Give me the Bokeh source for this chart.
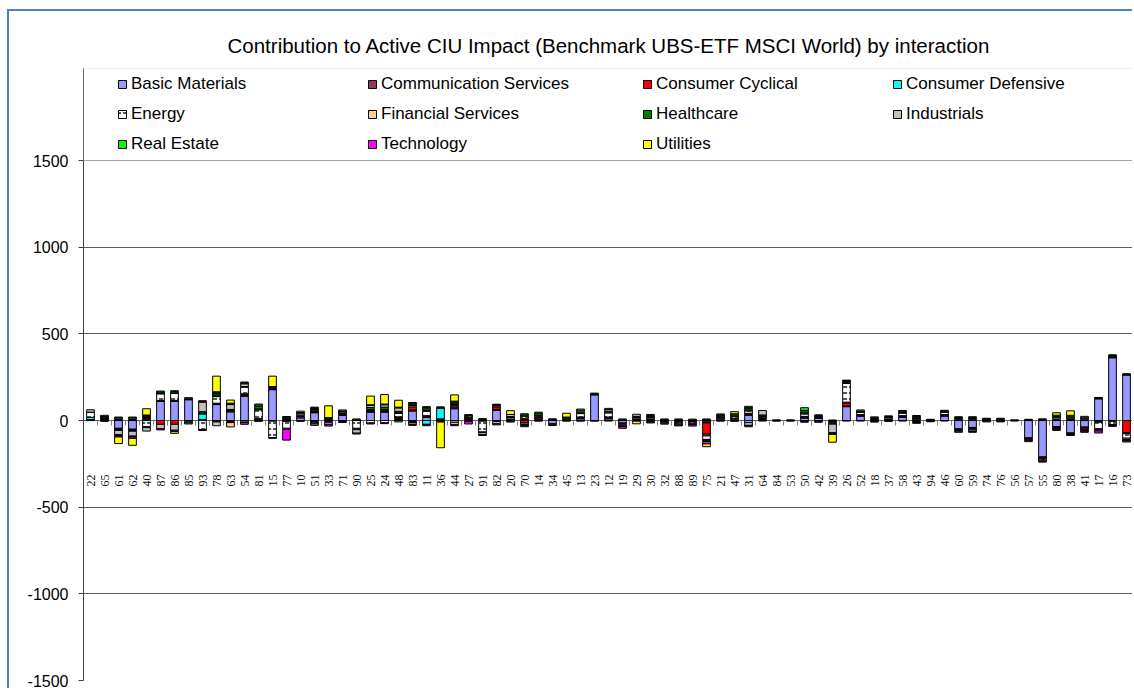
import numpy as np
from math import pi
from bokeh.plotting import figure
from bokeh.models import (ColumnDataSource, FactorRange, FixedTicker, Legend,
                          LegendItem, BoxAnnotation)
from bokeh.transform import dodge
from bokeh.embed import file_html
from bokeh.resources import INLINE

categories = ["22", "65", "61", "62", "40", "87", "86", "85", "93", "78", "63", "54", "81", "15", "77",
              "10", "51", "33", "71", "90", "25", "24", "48", "83", "11", "36", "44", "27", "91", "82",
              "20", "70", "14", "34", "45", "13", "23", "12", "19", "29", "30", "32", "88", "89", "75",
              "21", "47", "31", "64", "84", "53", "50", "42", "39", "26", "52", "18", "37", "58", "43",
              "94", "46", "60", "59", "74", "76", "56", "57", "55", "80", "38", "41", "17", "16", "73"]

series_names = ["Basic Materials", "Communication Services", "Consumer Cyclical", "Consumer Defensive",
                "Energy", "Financial Services", "Healthcare", "Industrials", "Real Estate",
                "Technology", "Utilities"]

basic_materials = [4, 5, -45, -50, 8, 110, 110, 120, 3, 92, 50, 140, 8, 178, 4,
                   15, 45, 4, 30, 4, 48, 48, 6, 55, 18, 6, 68, 6, 5, 58,
                   5, 6, 8, -18, 4, 10, 148, 10, -14, 5, 5, -5, -5, -5, -8,
                   8, 8, 30, 6, 0, 0, 14, 12, -5, 80, 25, 6, 6, 18, 8,
                   0, 25, -48, -40, 0, 0, 0, -100, -210, -35, -72, -38, 125, 362, 262]
communication_services = [2, 5, 6, 6, 5, 3, 3, 4, 3, 4, 5, 6, 4, 3, 4,
                          8, 5, 3, 6, 0, 5, 5, 4, 6, 6, 4, 10, 8, 0, 6,
                          4, 5, 8, 0, 4, 6, 4, 6, -5, 5, 5, -5, -5, -4, -6,
                          8, 5, 6, 6, 0, 0, 6, 5, -5, 4, 6, 5, 4, 6, 6,
                          0, 6, 5, 5, 0, 0, 0, -6, -6, 5, 6, -5, 4, 4, 4]
consumer_cyclical = [0, 4, -5, -5, 4, -22, -22, 0, 0, -8, -6, 4, -5, -4, -5,
                     5, 5, 3, 5, 0, 4, 4, 8, 18, 4, 0, 10, 6, -4, 15,
                     0, -14, 6, 0, 0, 4, 0, 4, 0, 0, 0, 0, 0, 0, -65,
                     5, 0, 6, 4, 0, 0, 4, 0, 0, 18, 4, 0, 0, 4, 5,
                     0, 4, -5, -5, 0, 0, 0, -5, -5, -5, -4, -10, -5, 0, -70]
consumer_defensive = [12, 0, -3, -3, 5, 3, 3, 0, 32, 4, 4, 4, 0, 3, 0,
                      0, -6, 0, 0, 0, 0, 0, 3, -6, -22, 60, 4, 0, 0, 0,
                      0, 0, 0, 0, 0, 0, 0, 0, 0, 0, 0, 0, 0, 0, -10,
                      0, 0, -12, 0, 0, 0, -5, 0, 0, 4, 0, 0, 0, 0, 0,
                      0, 0, -4, -4, 0, 0, 0, 0, 0, -5, 0, -4, -5, -5, -6]
energy = [28, 6, 8, 8, -36, 38, 40, -8, -52, 38, -6, 38, 50, -95, -40,
          10, -8, -6, 8, -45, -15, -14, 20, 8, 25, -5, -10, 8, -62, 6,
          8, 14, 8, -6, 6, 20, 0, 24, -6, 8, 8, -6, -10, -10, -20,
          6, 12, 14, 8, 0, 0, 14, 6, -6, 108, 12, 5, 8, 14, 5,
          0, 12, 6, 6, 4, 5, 0, -5, -8, 10, 8, 8, -38, -18, -26]
financial_services = [0, -5, -4, -4, -5, 3, 3, -6, 5, 4, -25, 4, 5, -4, -6,
                      -5, -6, -4, -5, -8, 6, 6, 4, -6, 5, -4, 5, -6, -4, -5,
                      -5, -8, -4, -5, -4, -4, -4, -3, -6, -4, -5, -5, -6, -5, -6,
                      -4, -5, 5, -3, -4, -4, 4, -5, -5, 4, -3, -5, -6, 4, -6,
                      -4, -3, -5, -6, -4, -5, -3, -6, -6, -6, -5, -5, -6, -5, -8]
healthcare = [2, 4, 6, 6, 6, 8, 8, 8, 8, 12, 5, -12, 15, 5, 5,
              8, 8, 5, 6, 5, 12, 14, 8, 8, 10, 5, 10, 6, 6, 6,
              6, 8, 12, 6, 6, 10, 6, 10, 5, 6, 6, 5, 5, 4, 5,
              6, 8, 10, 8, 4, 4, 8, 6, 3, 8, 8, 5, 5, 8, 5,
              4, 8, 6, 6, 5, 5, 4, 4, 5, 8, 8, 8, 4, 6, 4]
industrials = [14, 6, -25, -28, -20, -26, -34, -6, 55, -22, 28, 16, 8, 5, 6,
               8, -8, -12, 6, -20, 12, 14, 20, -10, 8, 4, -14, 0, -12, -14,
               12, 6, 6, 4, 0, 10, 0, 10, 4, 12, 5, 4, 4, 4, 4,
               5, 6, -16, 26, 0, 0, 8, 4, -50, 4, 6, 0, 4, 4, -6,
               3, 4, -6, -8, 4, 3, 0, 3, 5, 8, 8, 8, -6, 4, -6]
real_estate = [0, 0, -5, -5, 4, 5, 5, 0, -6, 6, 4, 6, 0, 2, 4,
               0, 5, 2, 0, 0, 4, 4, -8, 5, 4, 0, 5, 0, 0, 3,
               0, -6, 0, 0, 0, 0, 0, 0, -4, 0, -4, 0, 0, 0, -6,
               0, 0, 5, 0, 0, 0, 16, 0, -4, 3, 0, 0, 0, 0, 0,
               0, 0, 5, 5, 0, 0, 0, 0, 0, 0, 0, 0, 0, 3, 0]
technology = [0, 0, -8, -8, 0, -6, -8, 0, 5, 6, 4, -10, 0, 0, -62,
              0, 5, -10, -6, -5, -5, -4, 4, -6, -8, 0, -6, -14, -4, -6,
              -4, -8, 0, 0, 0, 0, 0, 0, -10, 0, -5, 0, -5, -8, -14,
              0, 0, -8, 0, 0, 0, -5, -5, -5, -3, 0, -4, 0, -3, -4,
              -3, 0, 0, -5, -4, -3, 0, 0, -5, -6, -5, -6, -12, -6, -8]
utilities = [0, 0, -38, -40, 36, 0, -10, 0, 3, 90, 18, 4, 5, 60, 0,
             0, 4, 68, 0, 0, 50, 55, 40, 4, 0, -148, 36, 0, 0, 0,
             22, 0, 0, 0, 22, 6, 0, 6, 0, -15, 6, 0, 0, 0, -16,
             0, 12, 6, 0, 0, 0, 0, 0, -45, 0, 0, 0, 0, 0, 0,
             0, 0, 0, 0, 0, 0, 0, 0, 0, 14, 26, 0, 0, 0, 0]

y_ticks = [-1500, -1000, -500, 0, 500, 1000, 1500]

series_values = [basic_materials, communication_services, consumer_cyclical, consumer_defensive,
                 energy, financial_services, healthcare, industrials, real_estate, technology, utilities]
series_colors = ["#9999FF", "#993366", "#FF0000", "#00FFFF", "#FFFFFF", "#FFCC99",
                 "#008000", "#C0C0C0", "#00FF00", "#FF00FF", "#FFFF00"]

n = len(categories)
FIG_W, FIG_H = 1125, 679
MB_L, MB_R, MB_T, MB_B = 74, 1, 57, 10
p = figure(x_range=FactorRange(*categories, range_padding=0), y_range=(-1500, 2031),
           width=FIG_W, height=FIG_H, output_backend="svg", toolbar_location=None,
           min_border_left=MB_L, min_border_right=MB_R, min_border_top=MB_T, min_border_bottom=MB_B,
           background_fill_color="white", border_fill_color="white")
p.styles = {"margin-left": "7px", "margin-top": "9px",
            "border-left": "2px solid #4F81BD", "border-top": "2px solid #4F81BD"}
p.outline_line_color = None

p.title.text = "Contribution to Active CIU Impact (Benchmark UBS-ETF MSCI World) by interaction"
p.title.text_font = "Liberation Sans"
p.title.text_font_size = "20.5px"
p.title.text_font_style = "normal"
p.title.text_color = "#000000"
p.title.align = "left"
p.title.offset = 144
p.title.standoff = 23

p.xaxis.visible = False
p.xgrid.visible = False
p.yaxis.ticker = FixedTicker(ticks=y_ticks)
p.yaxis.major_label_overrides = {t: str(t) for t in y_ticks}
p.yaxis.major_label_text_font = "Liberation Sans"
p.yaxis.major_label_text_font_size = "16px"
p.yaxis.major_label_text_color = "#000000"
p.yaxis.major_tick_out = 5
p.yaxis.major_tick_in = 0
p.yaxis.minor_tick_line_color = None
p.yaxis.axis_line_color = "#404040"
p.yaxis.major_tick_line_color = "#404040"
p.yaxis.major_label_standoff = 10
p.ygrid.grid_line_color = "#5E5E5E"
p.ygrid.grid_line_width = 1

# category tick marks on the zero line
tick_src = ColumnDataSource(dict(x=categories, y=[0] * n))
p.ray(x=dodge("x", -0.5, range=p.x_range), y="y", length=5, length_units="screen",
      angle=-pi / 2, line_color="#868686", source=tick_src)
p.ray(x=dodge("x", 0.5, range=p.x_range), y="y", length=5, length_units="screen",
      angle=-pi / 2, line_color="#868686",
      source=ColumnDataSource(dict(x=categories[-1:], y=[0])))

pos = np.zeros(n)
neg = np.zeros(n)
renderers = []
for name, vals, col in zip(series_names, series_values, series_colors):
    v = np.array(vals, dtype=float)
    bottom = np.where(v >= 0, pos, neg + v)
    top = np.where(v >= 0, pos + v, neg)
    pos = pos + np.clip(v, 0, None)
    neg = neg + np.clip(v, None, 0)
    mask = v != 0
    src = ColumnDataSource(dict(x=[c for c, m in zip(categories, mask) if m],
                                bottom=bottom[mask], top=top[mask]))
    kw = dict(fill_color=col, line_color="black", line_width=1)
    if name == "Energy":
        kw.update(hatch_pattern="horizontal_dash", hatch_color="black",
                  hatch_scale=6, hatch_weight=1.3)
    r = p.vbar(x="x", bottom="bottom", top="top", width=0.55, source=src, **kw)
    renderers.append(r)

# category labels below the zero line
lab_src = ColumnDataSource(dict(x=categories, y=[0] * n, t=categories))
p.text(x="x", y="y", text="t", source=lab_src, angle=pi / 2, text_align="right",
       text_baseline="middle", y_offset=54, text_font_size="12px",
       text_font="Liberation Sans", text_color="#111111")

# legend box
p.add_layout(BoxAnnotation(bottom=1500, fill_color="white", fill_alpha=1,
                           line_color="#8C8C8C", line_width=1))

frame_h = FIG_H - MB_T - MB_B
columns = [[0, 4, 8], [1, 5, 9], [2, 6, 10], [3, 7]]
col_x = [34, 284, 559, 809]
for idx, x in zip(columns, col_x):
    items = [LegendItem(label=series_names[i], renderers=[renderers[i]]) for i in idx]
    h = 20 * len(idx) + 10 * (len(idx) - 1)
    leg = Legend(items=items, location=(x, frame_h - 6 - h), orientation="vertical",
                 padding=0, margin=0, spacing=10, glyph_width=10, glyph_height=10,
                 label_height=20, label_standoff=4, label_text_font="Liberation Sans",
                 label_text_font_size="17px", label_text_color="#000000",
                 border_line_color=None, background_fill_alpha=0)
    p.add_layout(leg)

open("out.html", "w").write(file_html(p, INLINE))
